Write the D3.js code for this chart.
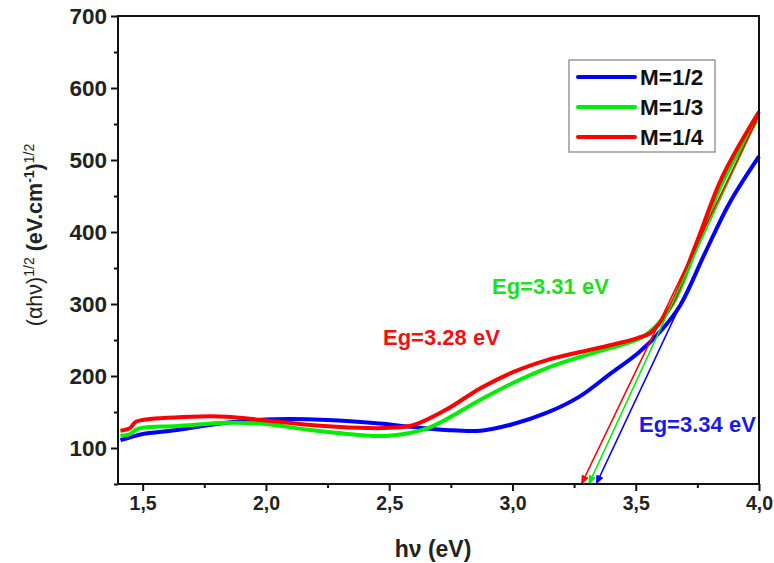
<!DOCTYPE html>
<html><head><meta charset="utf-8">
<script src="https://cdn.jsdelivr.net/npm/d3@7"></script>
<style>body{margin:0;background:#fff}svg{display:block}text{font-family:"Liberation Sans",Arial,sans-serif}</style>
</head><body>
<svg id="c" width="774" height="563"></svg>
<script>
const seriesNames = ["M=1/2", "M=1/3", "M=1/4"];
const seriesColors = ["#0000ff", "#00ee00", "#ff0000"];
const blueX = [1.41,1.45,1.5,1.64,1.77,1.91,2.04,2.25,2.46,2.6,2.73,2.87,3.0,3.14,3.27,3.40,3.51,3.6,3.68,3.78,3.88,4.0];
const blueY = [111,115,119.5,125,132,137.5,140,139,134,129,125,124,133,149,171,204,232,262,298,370,440,505];
const greenX = [1.41,1.45,1.47,1.5,1.64,1.84,1.98,2.18,2.38,2.5,2.66,2.87,3.0,3.14,3.27,3.40,3.51,3.56,3.65,3.75,3.85,3.99];
const greenY = [117,119.5,125,128,130.5,135,134,125,118,117,128,167,190,211,226,239,251,262,300,382,468,555];
const redX = [1.41,1.45,1.47,1.5,1.7,1.84,1.98,2.18,2.38,2.5,2.6,2.73,2.87,3.0,3.14,3.27,3.40,3.51,3.56,3.64,3.75,3.85,4.0];
const redY = [124,128,136,139,143.5,143.5,139,132,128,128,132,153,183,205,222,233,243,253,260,296,388,476,567];
// tangent lines: [x1,y1,x2,y2] (Eg intercept at y=50)
const tangentBlue = [3.34,50,3.87,437];
const tangentGreen = [3.31,50,3.99,555];
const tangentRed = [3.28,50,4.0,562];
const egLabels = ["Eg=3.34 eV","Eg=3.31 eV","Eg=3.28 eV"];
const xTicks = [1.5,2.0,2.5,3.0,3.5,4.0];
const xTickLabels = ["1,5","2,0","2,5","3,0","3,5","4,0"];
const xMinor = [1.75,2.25,2.75,3.25,3.75];
const yTicks = [100,200,300,400,500,600,700];
const yMinor = [50,150,250,350,450,550,650];

const svg = d3.select("#c");
const x = d3.scaleLinear().domain([1.4,4.0]).range([118,759]);
const y = d3.scaleLinear().domain([50,700]).range([484,16]);

seriesColors.forEach((c,i)=>{
  svg.append("defs").append("marker").attr("id","ar"+i).attr("viewBox","0 0 10 10")
    .attr("refX",9).attr("refY",5).attr("markerWidth",6).attr("markerHeight",6)
    .attr("orient","auto").append("path").attr("d","M0,1L10,5L0,9Z").attr("fill",c);
});

const series = [[blueX,blueY],[greenX,greenY],[redX,redY]];
const line = d3.line().x(d=>x(d[0])).y(d=>y(d[1])).curve(d3.curveCatmullRom.alpha(0.5));
series.forEach((s,i)=>{
  const pts = s[0].map((v,j)=>[v,s[1][j]]);
  svg.append("path").attr("d",line(pts)).attr("fill","none")
    .attr("stroke",seriesColors[i]).attr("stroke-width",4).attr("stroke-linejoin","round");
});
[tangentBlue,tangentGreen,tangentRed].forEach((t,i)=>{
  svg.append("line").attr("x1",x(t[2])).attr("y1",y(t[3])).attr("x2",x(t[0])).attr("y2",y(t[1]))
    .attr("stroke",seriesColors[i]).attr("stroke-width",1.6).attr("marker-end","url(#ar"+i+")");
});

const gx = svg.append("g").attr("transform","translate(0,484)")
  .call(d3.axisBottom(x).tickValues(xTicks).tickFormat((d,i)=>xTickLabels[i]).tickSize(7).tickPadding(5));
const gxm = svg.append("g").attr("transform","translate(0,484)")
  .call(d3.axisBottom(x).tickValues(xMinor).tickFormat("").tickSize(4));
const gy = svg.append("g").attr("transform","translate(118,0)")
  .call(d3.axisLeft(y).tickValues(yTicks).tickSize(7).tickPadding(4));
const gym = svg.append("g").attr("transform","translate(118,0)")
  .call(d3.axisLeft(y).tickValues(yMinor).tickFormat("").tickSize(4));
[gx,gxm,gy,gym].forEach(g=>{
  g.select(".domain").remove();
  g.selectAll("line").attr("stroke","#111").attr("stroke-width",2);
  g.selectAll("text").attr("font-weight","bold").attr("fill","#222")
   .style("font-family","'Liberation Sans',Arial,sans-serif");
});
gx.selectAll("text").attr("font-size",19.5);
gy.selectAll("text").attr("font-size",22.5).attr("dy","0.35em");
svg.append("rect").attr("x",118).attr("y",16).attr("width",641).attr("height",468)
  .attr("fill","none").attr("stroke","#111").attr("stroke-width",2);

const ann = [[639,432,"#1a1ae6"],[492,294,"#1ee01e"],[383,345,"#ee1111"]];
ann.forEach((a,i)=>{
  svg.append("text").attr("x",a[0]).attr("y",a[1]).attr("font-size",22).attr("font-weight","bold")
    .attr("fill",a[2]).text(egLabels[i]);
});

const lg = svg.append("g");
lg.append("rect").attr("x",569).attr("y",60).attr("width",146).attr("height",92)
  .attr("fill","#fff").attr("stroke","#999").attr("stroke-width",1.5);
seriesNames.forEach((n,i)=>{
  const cy = 77 + i*30;
  lg.append("line").attr("x1",578).attr("x2",635).attr("y1",cy).attr("y2",cy)
    .attr("stroke",seriesColors[i]).attr("stroke-width",4).attr("stroke-linecap","round");
  lg.append("text").attr("x",640).attr("y",cy+8).attr("font-size",22.5).attr("font-weight","bold")
    .attr("fill","#111").text(n);
});

const xt = svg.append("text").attr("x",433).attr("y",557).attr("text-anchor","middle")
  .attr("font-size",23).attr("font-weight","bold").attr("fill","#222");
xt.append("tspan").text("hν (eV)");
const yt = svg.append("text").attr("transform","translate(42,235) rotate(-90)").attr("text-anchor","middle")
  .attr("font-size",21.5).attr("fill","#222");
yt.append("tspan").text("(αhν)");
yt.append("tspan").attr("font-size",14).attr("dy",-8).text("1/2");
yt.append("tspan").attr("dy",8).attr("font-weight","bold").text(" (eV.cm");
yt.append("tspan").attr("font-size",14).attr("dy",-8).attr("font-weight","bold").text("-1");
yt.append("tspan").attr("dy",8).attr("font-weight","bold").text(")");
yt.append("tspan").attr("font-size",14).attr("dy",-8).text("1/2");
</script>
</body></html>
